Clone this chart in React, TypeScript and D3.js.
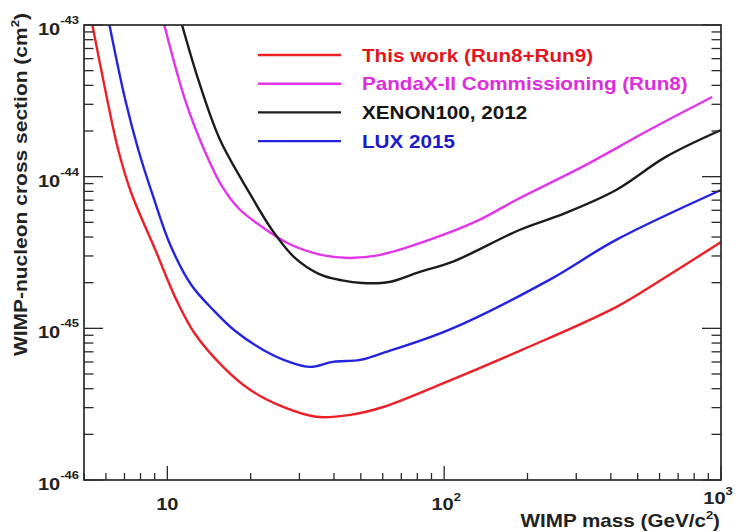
import * as d3 from "d3";

// WIMP mass (GeV/c^2) vs spin-independent cross section (cm^2)
const thisWork: [number, number][] = [
  [5.36, 1e-43], [6.07, 3.2e-44], [6.65, 1.5e-44], [7.41, 7.8e-45], [9.05, 3.29e-45],
  [10.78, 1.54e-45], [12.52, 9.31e-46], [15.9, 5.57e-46], [19.9, 3.93e-46], [26.2, 3.03e-46],
  [34.5, 2.61e-46], [45.8, 2.69e-46], [60.3, 3.03e-46], [100, 4.37e-46], [191, 7.21e-46],
  [418, 1.38e-45], [632, 2.18e-45], [1000, 3.71e-45],
];

const pandaxRun8: [number, number][] = [
  [9.75, 1e-43], [11.6, 3.2e-44], [13.6, 1.5e-44], [15.67, 8.81e-45], [18.2, 6.12e-45],
  [21.5, 4.8e-45], [27.6, 3.6e-45], [36.3, 3.04e-45], [45.4, 2.91e-45], [58.3, 3.04e-45],
  [88.3, 3.83e-45], [134, 5.19e-45], [182, 7.02e-45], [315, 1.16e-44], [550, 2.03e-44],
  [929, 3.35e-44],
];

const xenon100: [number, number][] = [
  [11.3, 1e-43], [13.05, 4.15e-44], [15.5, 1.75e-44], [19.8, 7.81e-45], [23.9, 4.45e-45],
  [28.7, 2.95e-45], [35.4, 2.28e-45], [42.8, 2.07e-45], [50.6, 1.99e-45], [63.3, 2.02e-45],
  [81.2, 2.35e-45], [107, 2.74e-45], [187, 4.45e-45], [275, 5.77e-45], [418, 8.17e-45],
  [632, 1.35e-44], [1000, 2.03e-44],
];

const lux2015: [number, number][] = [
  [6.18, 1e-43], [7.05, 3.2e-44], [7.86, 1.5e-44], [8.9, 7.35e-45], [10.25, 3.54e-45],
  [12.21, 1.93e-45], [14.78, 1.3e-45], [17.6, 9.6e-46], [22.2, 7.2e-46], [27.6, 6.0e-46],
  [32.8, 5.57e-46], [39.7, 6.01e-46], [49.7, 6.19e-46], [60.3, 6.89e-46], [104, 9.76e-46],
  [239, 2.08e-45], [418, 3.83e-45], [1000, 8.17e-45],
];

const seriesNames = [
  "This work (Run8+Run9)",
  "PandaX-II Commissioning (Run8)",
  "XENON100, 2012",
  "LUX 2015",
];
const seriesData = [thisWork, pandaxRun8, xenon100, lux2015];
const lineColors = ["#ec2027", "#e234e8", "#1c1c1c", "#2424e0"];
const textColors = ["#e3161d", "#dd2ddd", "#161616", "#1b1bcc"];

const xDomain: [number, number] = [5, 1000];
const yDomain: [number, number] = [1e-46, 1e-43];
const xMajor = [10, 100, 1000];
const yMajorExp = [-46, -45, -44, -43];

const W = 736;
const H = 532;
const frame = { left: 84, top: 25, right: 721, bottom: 480 };
const FONT = "'Liberation Sans', Arial, Helvetica, sans-serif";
const SX = 1.18; // ROOT's helvetica renders wider than Liberation

export default function App() {
  const x = d3.scaleLog().domain(xDomain).range([frame.left, frame.right]);
  const y = d3.scaleLog().domain(yDomain).range([frame.bottom, frame.top]);

  const line = d3
    .line<[number, number]>()
    .x((d) => x(d[0]))
    .y((d) => y(d[1]))
    .curve(d3.curveCatmullRom.alpha(0.5));

  const xTicks = x.ticks();
  const yTicks = y.ticks();
  const isMajor = (v: number) => {
    const l = Math.log10(v);
    return Math.abs(l - Math.round(l)) < 1e-6;
  };

  const fw = frame.right - frame.left;
  const fh = frame.bottom - frame.top;
  // last x label sits against the right edge, as in the original
  const xLabelShift = [0, 2, -3];

  return (
    <svg
      width={W}
      height={H}
      style={{ position: "absolute", left: 0, top: 0, background: "#fff" }}
      fontFamily={FONT}
      fontWeight="bold"
    >
      <defs>
        <clipPath id="plot">
          <rect x={frame.left} y={frame.top} width={fw} height={fh} />
        </clipPath>
      </defs>

      {/* Curves */}
      <g clipPath="url(#plot)">
        {seriesData.map((d, i) => (
          <path
            key={seriesNames[i]}
            d={line(d) || ""}
            fill="none"
            stroke={lineColors[i]}
            strokeWidth={2.4}
          />
        ))}
      </g>

      {/* Frame */}
      <rect
        x={frame.left}
        y={frame.top}
        width={fw}
        height={fh}
        fill="none"
        stroke="#2a2a2a"
        strokeWidth={1.7}
      />

      {/* Y ticks, left and right */}
      {yTicks.map((t) => {
        const len = isMajor(t) ? 19 : 9.5;
        const yy = y(t);
        return (
          <g key={`y${t}`} stroke="#2a2a2a" strokeWidth={1.3}>
            <line x1={frame.left} x2={frame.left + len} y1={yy} y2={yy} />
            <line x1={frame.right} x2={frame.right - len} y1={yy} y2={yy} />
          </g>
        );
      })}

      {/* X ticks */}
      {xTicks.map((t) => {
        const len = isMajor(t) ? 14 : 7;
        const xx = x(t);
        return (
          <line
            key={`x${t}`}
            x1={xx}
            x2={xx}
            y1={frame.bottom}
            y2={frame.bottom - len}
            stroke="#2a2a2a"
            strokeWidth={1.3}
          />
        );
      })}

      {/* Y tick labels */}
      {yMajorExp.map((e) => (
        <text
          key={`yl${e}`}
          transform={`translate(79,${y(Math.pow(10, e)) + 10}) scale(${SX},1)`}
          textAnchor="end"
          fontSize={17}
          fill="#222"
        >
          10
          <tspan dy={-11} fontSize={11}>
            {`-${-e}`}
          </tspan>
        </text>
      ))}

      {/* X tick labels */}
      {xMajor.map((v, i) => (
        <text
          key={`xl${v}`}
          transform={`translate(${x(v) + xLabelShift[i]},${i === 2 ? 504 : 510}) scale(${SX},1)`}
          textAnchor="middle"
          fontSize={17}
          fill="#222"
        >
          10
          {i > 0 && (
            <tspan dy={-9} fontSize={11}>
              {String(i + 1)}
            </tspan>
          )}
        </text>
      ))}

      {/* Axis titles */}
      <text
        transform={`translate(720,527) scale(${SX},1)`}
        textAnchor="end"
        fontSize={17.5}
        fill="#222"
      >
        WIMP mass (GeV/c
        <tspan dy={-8} fontSize={11}>
          2
        </tspan>
        <tspan dy={8}>)</tspan>
      </text>
      <text
        transform={`translate(27,13) rotate(-90) scale(1.2,1)`}
        textAnchor="end"
        fontSize={17.5}
        fill="#222"
      >
        WIMP-nucleon cross section (cm
        <tspan dy={-8} fontSize={11}>
          2
        </tspan>
        <tspan dy={8}>)</tspan>
      </text>

      {/* Legend */}
      {seriesNames.map((name, i) => {
        const ly = 55 + i * 28.7;
        return (
          <g key={`lg${name}`}>
            <line
              x1={258}
              x2={341}
              y1={ly}
              y2={ly}
              stroke={lineColors[i]}
              strokeWidth={2.4}
            />
            <text
              transform={`translate(362,${ly + 6.5}) scale(${SX},1)`}
              fontSize={17.5}
              fill={textColors[i]}
            >
              {name}
            </text>
          </g>
        );
      })}
    </svg>
  );
}
